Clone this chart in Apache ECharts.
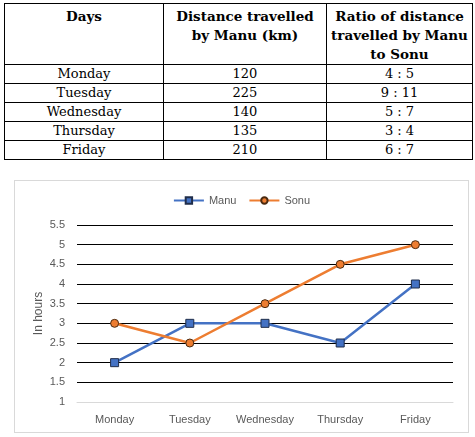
<!DOCTYPE html>
<html>
<head>
<meta charset="utf-8">
<script src="https://cdn.jsdelivr.net/npm/echarts@6/dist/echarts.min.js"></script>
<style>
  body { margin: 0; background: #fff; }
  #tbl {
    position: absolute; left: 4px; top: 3px;
    border-collapse: collapse; font-family: "DejaVu Serif", serif; font-size: 13px; color: #000;
  }
  #tbl td, #tbl th { border: 1px solid #000; text-align: center; padding: 0; }
  #tbl th { font-weight: bold; font-size: 13.5px; vertical-align: top; height: 57px; line-height: 19px; padding-top: 3px; }
  #tbl td { height: 18px; line-height: 18px; }
  #chart {
    position: absolute; left: 14px; top: 180px; width: 453px; height: 251px;
    border: 1px solid #d9d9d9;
  }
</style>
</head>
<body>
<table id="tbl"></table>
<div id="chart"></div>
<script>
var days = ['Monday', 'Tuesday', 'Wednesday', 'Thursday', 'Friday'];
var manuDistance = [120, 225, 140, 135, 210];
var ratio = ['4 : 5', '9 : 11', '5 : 7', '3 : 4', '6 : 7'];
var headers = ['Days', 'Distance travelled<br>by Manu (km)', 'Ratio of distance<br>travelled by Manu<br>to Sonu'];
var colWidths = [158, 162, 145];

var manuHours = [2, 3, 3, 2.5, 4];
var sonuHours = [3, 2.5, 3.5, 4.5, 5];

// table
var tbl = document.getElementById('tbl');
var html = '<tr>';
headers.forEach(function (h, i) {
  html += '<th style="width:' + colWidths[i] + 'px">' + h + '</th>';
});
html += '</tr>';
days.forEach(function (d, i) {
  html += '<tr><td>' + d + '</td><td>' + manuDistance[i] + '</td><td>' + ratio[i] + '</td></tr>';
});
tbl.innerHTML = html;

// chart
var chart = echarts.init(document.getElementById('chart'));
var font = 'Liberation Sans';
chart.setOption({
  animation: false,
  textStyle: { fontFamily: font },
  legend: {
    top: 9,
    left: 'center',
    itemWidth: 30,
    itemHeight: 8,
    itemGap: 12,
    textStyle: { color: '#595959', fontSize: 11, fontFamily: font },
    data: ['Manu', 'Sonu']
  },
  grid: { left: 62, right: 15, top: 44, bottom: 30 },
  xAxis: {
    type: 'category',
    data: days,
    boundaryGap: true,
    axisTick: { show: false },
    axisLine: { lineStyle: { color: '#d9d9d9' } },
    axisLabel: { color: '#595959', fontSize: 11, margin: 12, interval: 0 }
  },
  yAxis: {
    type: 'value',
    min: 1, max: 5.5, interval: 0.5,
    name: 'In hours',
    nameLocation: 'middle',
    nameGap: 32,
    nameMoveOverlap: false,
    nameTextStyle: { color: '#595959', fontSize: 12 },
    axisLine: { show: false },
    axisTick: { show: false },
    axisLabel: { color: '#595959', fontSize: 11, margin: 12 },
    splitLine: {
      lineStyle: {
        color: ['#d9d9d9', '#000', '#000', '#000', '#000', '#000', '#000', '#000', '#000', '#000'],
        width: 1
      }
    }
  },
  series: [
    {
      name: 'Manu',
      type: 'line',
      data: manuHours,
      symbol: 'rect',
      symbolSize: 8,
      color: '#4472C4',
      lineStyle: { width: 2.5, color: '#4472C4' },
      itemStyle: { color: '#4472C4', borderColor: '#1f2d4a', borderWidth: 1 }
    },
    {
      name: 'Sonu',
      type: 'line',
      data: sonuHours,
      symbol: 'circle',
      symbolSize: 8,
      color: '#ED7D31',
      lineStyle: { width: 2.5, color: '#ED7D31' },
      itemStyle: { color: '#ED7D31', borderColor: '#4a2a10', borderWidth: 1 }
    }
  ]
});
</script>
</body>
</html>
